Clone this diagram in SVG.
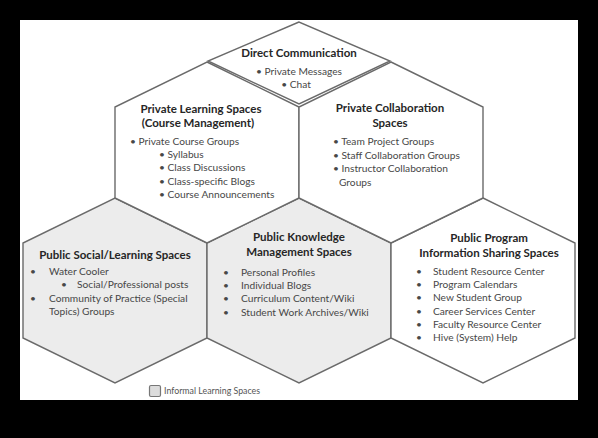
<svg xmlns="http://www.w3.org/2000/svg" width="598" height="438" viewBox="0 0 598 438">
  <style>
    .hex { stroke: #6a6a6a; stroke-width: 1.4; stroke-linejoin: miter; }
    .white { fill: #ffffff; }
    .grey { fill: #ececec; }
    .title { font-family: Lato, "Liberation Sans", sans-serif; font-weight: bold; font-size: 11.5px; fill: #262626; }
    .item { font-family: Lato, "Liberation Sans", sans-serif; font-size: 10.2px; fill: #474747; }
    .mid { text-anchor: middle; }
    .legend { font-family: Lato, "Liberation Sans", sans-serif; font-size: 8.8px; fill: #555555; }
  </style>
  <rect x="0" y="0" width="598" height="438" fill="#000000"/>
  <rect x="20" y="20" width="558" height="380" fill="#ffffff"/>

  <g id="public-social">
    <polygon class="hex grey" points="115,198 207,243 207,338 115,383 23,338 23,243"/>
    <text class="title mid" x="115" y="259">Public Social/Learning Spaces</text>
    <text class="item" x="30" y="275">•</text>
    <text class="item" x="49" y="275">Water Cooler</text>
    <text class="item" x="61" y="288">•</text>
    <text class="item" x="77" y="288">Social/Professional posts</text>
    <text class="item" x="30" y="302">•</text>
    <text class="item" x="49" y="302">Community of Practice (Special</text>
    <text class="item" x="49" y="315">Topics) Groups</text>
  </g>

  <g id="public-knowledge">
    <polygon class="hex grey" points="299,198 391,243 391,338 299,383 207,338 207,243"/>
    <text class="title mid" x="299" y="241">Public Knowledge</text>
    <text class="title mid" x="299" y="256">Management Spaces</text>
    <text class="item" x="223" y="276">•</text>
    <text class="item" x="241" y="276">Personal Profiles</text>
    <text class="item" x="223" y="289">•</text>
    <text class="item" x="241" y="289">Individual Blogs</text>
    <text class="item" x="223" y="302">•</text>
    <text class="item" x="241" y="302">Curriculum Content/Wiki</text>
    <text class="item" x="223" y="316">•</text>
    <text class="item" x="241" y="316">Student Work Archives/Wiki</text>
  </g>

  <g id="public-program">
    <polygon class="hex white" points="483,198 575,243 575,338 483,383 391,338 391,243"/>
    <text class="title mid" x="489" y="242">Public Program</text>
    <text class="title mid" x="489" y="257">Information Sharing Spaces</text>
    <text class="item" x="416" y="275">•</text>
    <text class="item" x="433" y="275">Student Resource Center</text>
    <text class="item" x="416" y="288">•</text>
    <text class="item" x="433" y="288">Program Calendars</text>
    <text class="item" x="416" y="301">•</text>
    <text class="item" x="433" y="301">New Student Group</text>
    <text class="item" x="416" y="315">•</text>
    <text class="item" x="433" y="315">Career Services Center</text>
    <text class="item" x="416" y="328">•</text>
    <text class="item" x="433" y="328">Faculty Resource Center</text>
    <text class="item" x="416" y="341">•</text>
    <text class="item" x="433" y="341">Hive (System) Help</text>
  </g>

  <g id="private-learning">
    <polygon class="hex white" points="207,62 299,107 299,198 207,243 115,198 115,107"/>
    <text class="title mid" x="201" y="113">Private Learning Spaces</text>
    <text class="title mid" x="198" y="127">(Course Management)</text>
    <text class="item" x="130" y="145">• Private Course Groups</text>
    <text class="item" x="159" y="158">• Syllabus</text>
    <text class="item" x="159" y="171">• Class Discussions</text>
    <text class="item" x="159" y="185">• Class-specific Blogs</text>
    <text class="item" x="159" y="198">• Course Announcements</text>
  </g>

  <g id="private-collaboration">
    <polygon class="hex white" points="391,62 483,107 483,198 391,243 299,198 299,107"/>
    <text class="title mid" x="390" y="112">Private Collaboration</text>
    <text class="title mid" x="390" y="127">Spaces</text>
    <text class="item" x="333" y="145">• Team Project Groups</text>
    <text class="item" x="333" y="159">• Staff Collaboration Groups</text>
    <text class="item" x="333" y="172">• Instructor Collaboration</text>
    <text class="item" x="339" y="186">Groups</text>
  </g>

  <g id="direct-communication">
    <polygon class="hex white" points="299,22 208,61 299,104 390,61"/>
    <text class="title mid" x="299" y="57">Direct Communication</text>
    <text class="item mid" x="299" y="75">• Private Messages</text>
    <text class="item mid" x="296" y="88">• Chat</text>
  </g>

  <g id="legend">
    <rect x="149.5" y="385.5" width="11" height="11" rx="1.5" fill="#dcdcdc" stroke="#777777" stroke-width="1.2"/>
    <text class="legend" x="164" y="394">Informal Learning Spaces</text>
  </g>

  <g id="connectors"></g>
</svg>
